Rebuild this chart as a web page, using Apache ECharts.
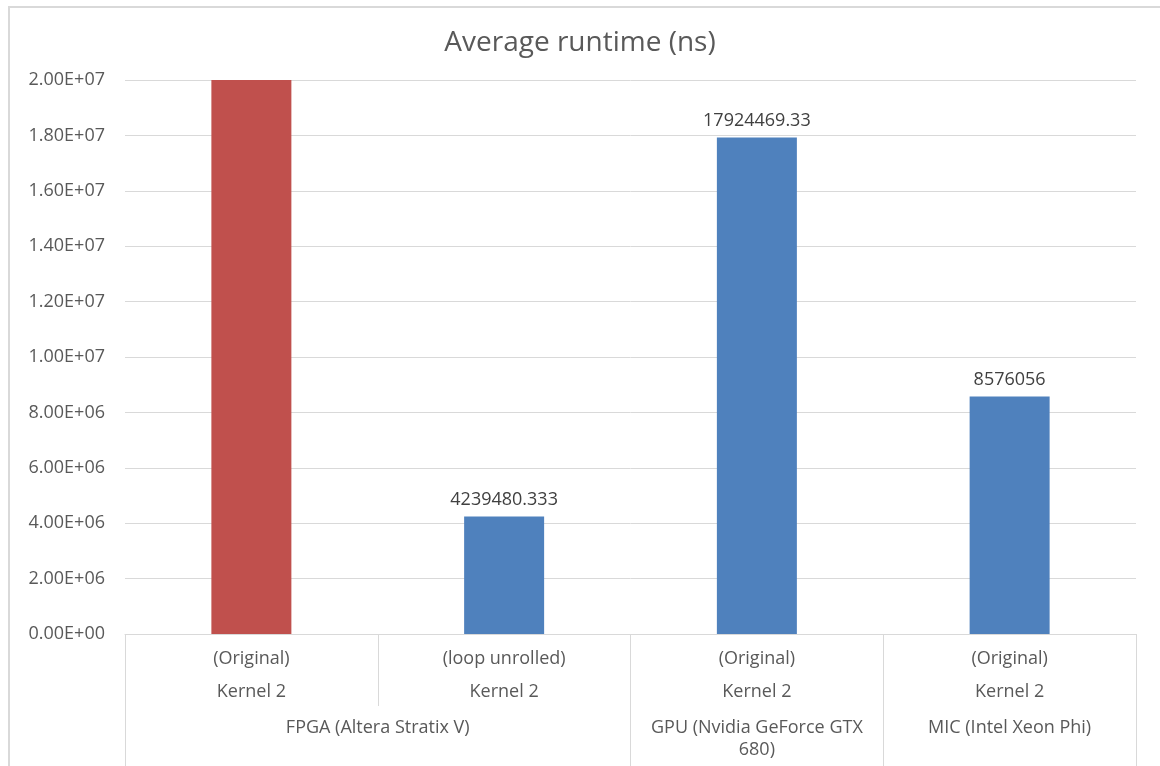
<!DOCTYPE html>
<html>
<head>
<meta charset="utf-8">
<script src="https://cdn.jsdelivr.net/npm/echarts@6/dist/echarts.min.js"></script>
<style>
  html, body { margin: 0; padding: 0; background: #fff; overflow: hidden; }
  #frame { position: absolute; left: 8px; top: 6px; width: 1170px; height: 780px;
           border: 2px solid #d9d9d9; box-sizing: border-box; }
  #chart { position: absolute; left: 0; top: 0; width: 1160px; height: 766px; }
</style>
</head>
<body>
<div id="frame"></div>
<div id="chart"></div>
<script>
// Runtime per kernel variant, in nanoseconds
const variants = ['(Original)', '(loop unrolled)', '(Original)', '(Original)'];
const kernels = ['Kernel 2', 'Kernel 2', 'Kernel 2', 'Kernel 2'];
const platforms = ['FPGA (Altera Stratix V)', 'GPU (Nvidia GeForce GTX\n680)', 'MIC (Intel Xeon Phi)'];
// centre position of each platform label along the category index
const platformCenters = [0.5, 2, 3];
// platform boundaries (category index space)
const platformEdges = [-0.5, 1.5, 2.5, 3.5];
const runtimes = [20000000, 4239480.333, 17924469.33, 8576056];
const showLabel = [false, true, true, true];
const barColors = ['#C0504D', '#4F81BD', '#4F81BD', '#4F81BD'];
const yTicks = { min: 0, max: 20000000, interval: 2000000 };

const FONT = 'Open Sans';
const TXT = '#595959';
const GRIDC = '#d9d9d9';

function sci(v) {
  if (v === 0) return '0.00E+00';
  const e = Math.floor(Math.log10(v));
  const m = v / Math.pow(10, e);
  return m.toFixed(2) + 'E+' + String(e).padStart(2, '0');
}

const chart = echarts.init(document.getElementById('chart'), null, { renderer: 'canvas' });
chart.setOption({
  animation: false,
  backgroundColor: 'transparent',
  title: {
    text: 'Average runtime (ns)',
    left: 'center',
    top: 24,
    textStyle: { fontFamily: FONT, fontSize: 28, fontWeight: 'normal', color: TXT }
  },
  grid: { left: 125, right: 24, top: 80, bottom: 132 },
  xAxis: [
    {
      type: 'category',
      data: variants.map((v, i) => v + '\n' + kernels[i]),
      position: 'bottom',
      axisLine: { show: true, lineStyle: { color: GRIDC, width: 1 } },
      axisTick: { show: true, length: 72, lineStyle: { color: GRIDC, width: 1 } },
      axisLabel: {
        fontFamily: FONT, fontSize: 18, color: TXT, lineHeight: 33, margin: 8
      }
    },
    {
      type: 'value',
      min: -0.5,
      max: 3.5,
      position: 'bottom',
      axisLine: { show: false },
      splitLine: { show: false },
      axisTick: {
        show: true, length: 132, customValues: platformEdges,
        lineStyle: { color: GRIDC, width: 1 }
      },
      axisLabel: {
        customValues: platformCenters,
        fontFamily: FONT, fontSize: 18, color: TXT, lineHeight: 22, margin: 83,
        verticalAlign: 'top',
        formatter: (v) => platforms[platformCenters.indexOf(v)]
      }
    }
  ],
  yAxis: {
    type: 'value',
    min: yTicks.min,
    max: yTicks.max,
    interval: yTicks.interval,
    axisLine: { show: false },
    axisTick: { show: false },
    splitLine: { lineStyle: { color: GRIDC, width: 1 } },
    axisLabel: { fontFamily: FONT, fontSize: 18, color: TXT, margin: 20, formatter: sci }
  },
  series: [{
    type: 'bar',
    xAxisIndex: 0,
    barWidth: 80,
    data: runtimes.map((v, i) => ({
      value: v,
      itemStyle: { color: barColors[i] },
      label: { show: showLabel[i] }
    })),
    label: {
      position: 'top',
      distance: 8,
      fontFamily: FONT,
      fontSize: 18,
      color: '#404040',
      formatter: '{c}'
    }
  }]
});
</script>
</body>
</html>
